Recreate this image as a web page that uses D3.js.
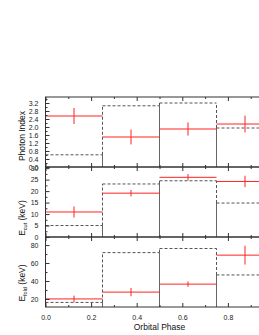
<!DOCTYPE html>
<html>
<head>
<meta charset="utf-8">
<script src="https://cdn.jsdelivr.net/npm/d3@7"></script>
<style>
  body { margin: 0; background: #fff; }
  svg { display: block; font-family: "Liberation Sans", Arial, sans-serif; }
  .axis path, .axis line { stroke: #333; }
  .axis text { font-size: 7px; fill: #222; }
  .axis-title { font-size: 8.5px; fill: #111; }
</style>
</head>
<body>
<svg id="chart"></svg>
<script>
// phase bins
const phaseEdges = [0, 0.25, 0.5, 0.75, 1.0];
const phaseCenters = [0.125, 0.375, 0.625, 0.875];
const phaseTicks = [0, 0.2, 0.4, 0.6, 0.8];
const phaseMinorTicks = [0.1, 0.3, 0.5, 0.7, 0.9];

// photon index
const photonIndex = [2.55, 1.5, 1.9, 2.15];
const photonIndexErr = [0.4, 0.37, 0.33, 0.42];
const photonIndexRef = [0.61, 3.06, 3.2, 1.95];
const photonTicks = [0, 0.4, 0.8, 1.2, 1.6, 2.0, 2.4, 2.8, 3.2];

// cutoff energy
const eCut = [10.9, 19.1, 26, 24.2];
const eCutErr = [2.4, 1.4, 1.4, 2.5];
const eCutRef = [5.0, 23.1, 24.5, 14.8];
const eCutTicks = [0, 5, 10, 15, 20, 25, 30];

// folding energy
const eFold = [20, 27.6, 36.5, 68.8];
const eFoldErr = [3.7, 4.6, 3.0, 10.5];
const eFoldRef = [16.1, 71.6, 76.2, 46.7];
const eFoldTicks = [20, 40, 60, 80];

const width = 259, height = 335;
const margin = { left: 45.5, top: 97 };
const panelH = 70;
const plotRight = margin.left + 228; // phase 1.0 falls outside the window

const svg = d3.select('#chart').attr('width', width).attr('height', height);

const x = d3.scaleLinear().domain([0, 1]).range([margin.left, plotRight]);

// Define one stacked panel
class Panel {
  constructor(_cfg) {
    this.cfg = _cfg;
    this.top = margin.top + _cfg.index * panelH;
    this.bottom = this.top + panelH;
    this.y = d3.scaleLinear().domain(_cfg.domain).range([this.bottom, this.top]);
    this.render();
  }

  render() {
    let p = this;
    const g = svg.append('g');
    const y = p.y;
    const vals = p.cfg.values, errs = p.cfg.errors, ref = p.cfg.reference;

    // dashed reference histogram: tops
    g.selectAll('.ref-top').data(ref).join('line')
      .attr('x1', (d, i) => x(phaseEdges[i]))
      .attr('x2', (d, i) => x(phaseEdges[i + 1]))
      .attr('y1', d => y(d)).attr('y2', d => y(d))
      .attr('stroke', '#555').attr('stroke-width', 1)
      .attr('stroke-dasharray', '3,2');

    // bin edges: shared part looks solid, rest dashed
    const edges = phaseEdges.slice(1).map((e, i) => ({
      x: e,
      lo: i + 1 < ref.length ? Math.min(ref[i], ref[i + 1]) : 0,
      hi: i + 1 < ref.length ? Math.max(ref[i], ref[i + 1]) : ref[i]
    }));
    g.selectAll('.edge-solid').data(edges.filter(d => d.lo > 0)).join('line')
      .attr('x1', d => x(d.x)).attr('x2', d => x(d.x))
      .attr('y1', p.bottom).attr('y2', d => y(d.lo))
      .attr('stroke', '#666').attr('stroke-width', 1);
    g.selectAll('.edge-dash').data(edges).join('line')
      .attr('x1', d => x(d.x)).attr('x2', d => x(d.x))
      .attr('y1', d => d.lo > 0 ? y(d.lo) : p.bottom).attr('y2', d => y(d.hi))
      .attr('stroke', '#555').attr('stroke-width', 1)
      .attr('stroke-dasharray', '3,2');

    // measured values (red)
    g.selectAll('.val').data(vals).join('line')
      .attr('x1', (d, i) => x(phaseEdges[i]))
      .attr('x2', (d, i) => x(phaseEdges[i + 1]))
      .attr('y1', d => y(d)).attr('y2', d => y(d))
      .attr('stroke', '#f22').attr('stroke-width', 1);
    g.selectAll('.err').data(vals).join('line')
      .attr('x1', (d, i) => x(phaseCenters[i]))
      .attr('x2', (d, i) => x(phaseCenters[i]))
      .attr('y1', (d, i) => y(d - errs[i]))
      .attr('y2', (d, i) => y(d + errs[i]))
      .attr('stroke', '#f22').attr('stroke-width', 1);

    // frame
    g.append('rect')
      .attr('x', margin.left).attr('y', p.top)
      .attr('width', plotRight - margin.left).attr('height', panelH)
      .attr('fill', 'none').attr('stroke', '#333');

    // x ticks, pointing inward on both sides
    const xBottom = d3.axisBottom(x).tickValues(phaseTicks).tickSize(-4)
      .tickFormat(p.cfg.showX ? d3.format('.1f') : '').tickPadding(8);
    const xBottomG = g.append('g').attr('class', 'axis')
      .attr('transform', `translate(0,${p.bottom})`).call(xBottom);
    xBottomG.select('.domain').remove();
    g.append('g').attr('class', 'axis')
      .attr('transform', `translate(0,${p.bottom})`)
      .call(d3.axisBottom(x).tickValues(phaseMinorTicks).tickSize(-2).tickFormat(''))
      .select('.domain').remove();
    g.append('g').attr('class', 'axis')
      .attr('transform', `translate(0,${p.top})`)
      .call(d3.axisTop(x).tickValues(phaseTicks).tickSize(-4).tickFormat(''))
      .select('.domain').remove();
    g.append('g').attr('class', 'axis')
      .attr('transform', `translate(0,${p.top})`)
      .call(d3.axisTop(x).tickValues(phaseMinorTicks).tickSize(-2).tickFormat(''))
      .select('.domain').remove();

    // y ticks
    const yAxis = d3.axisLeft(y).tickValues(p.cfg.ticks).tickSize(-4)
      .tickPadding(7).tickFormat(p.cfg.format);
    g.append('g').attr('class', 'axis')
      .attr('transform', `translate(${margin.left},0)`).call(yAxis)
      .select('.domain').remove();
    g.append('g').attr('class', 'axis')
      .attr('transform', `translate(${margin.left},0)`)
      .call(d3.axisLeft(y).tickValues(p.cfg.minor).tickSize(-2).tickFormat(''))
      .select('.domain').remove();

    // axis title
    const t = g.append('text').attr('class', 'axis-title')
      .attr('transform', `translate(${p.cfg.titleX},${p.cfg.titleY}) rotate(-90)`)
      .attr('text-anchor', 'middle');
    t.append('tspan').text(p.cfg.title);
    if (p.cfg.sub) {
      t.append('tspan').attr('font-size', '5.5px').attr('dy', 2).text(p.cfg.sub);
      t.append('tspan').attr('dy', -2).text(' (keV)');
    }
  }
}

new Panel({
  index: 0, domain: [0, 3.5], values: photonIndex, errors: photonIndexErr,
  reference: photonIndexRef, ticks: photonTicks,
  minor: d3.range(0.2, 3.5, 0.4), format: d3.format('.1f'),
  title: 'Photon Index', titleX: 25, titleY: 136, showX: false
});
new Panel({
  index: 1, domain: [0, 30.5], values: eCut, errors: eCutErr,
  reference: eCutRef, ticks: eCutTicks,
  minor: [2.5, 7.5, 12.5, 17.5, 22.5, 27.5], format: d3.format('d'),
  title: 'E', sub: 'cut', titleX: 25, titleY: 218, showX: false
});
new Panel({
  index: 2, domain: [11, 89], values: eFold, errors: eFoldErr,
  reference: eFoldRef, ticks: eFoldTicks,
  minor: [30, 50, 70], format: d3.format('d'),
  title: 'E', sub: 'fold', titleX: 25, titleY: 283, showX: true
});

svg.append('text').attr('class', 'axis-title')
  .attr('x', (margin.left + plotRight) / 2).attr('y', 330)
  .attr('text-anchor', 'middle').text('Orbital Phase');
</script>
</body>
</html>
